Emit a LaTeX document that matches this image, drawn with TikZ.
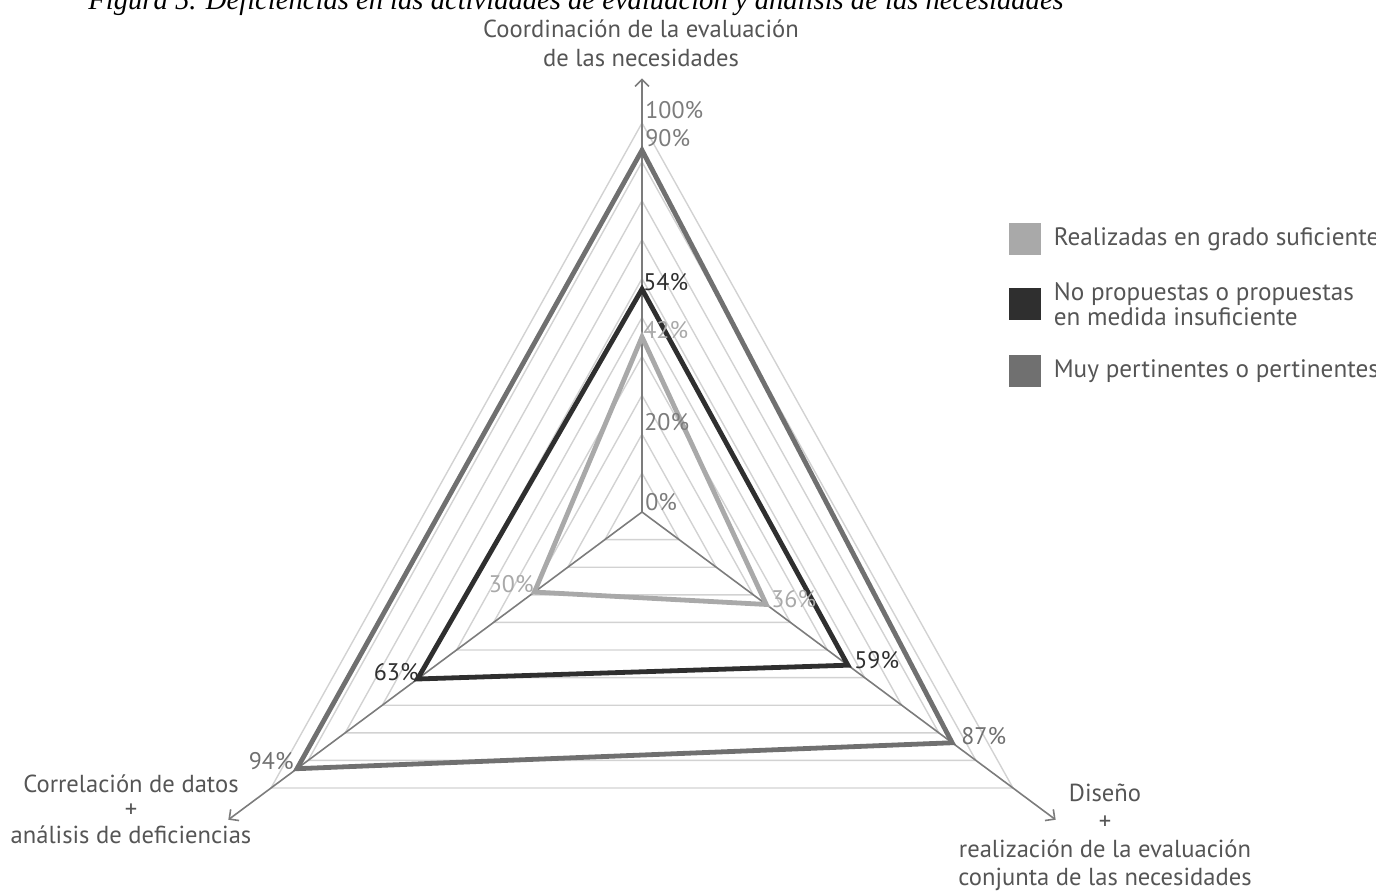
\documentclass[tikz,border=0pt]{standalone}
\usepackage{fontspec}
\setmainfont{Liberation Serif}
\newfontfamily\chartfont{PT Sans}
\usepackage{xcolor}
\usetikzlibrary{positioning,calc,arrows.meta}
\definecolor{lightser}{HTML}{A9A9A9}
\definecolor{darkser}{HTML}{2F2F2F}
\definecolor{midser}{HTML}{707070}
\definecolor{gridcol}{HTML}{D2D2D2}
\definecolor{axiscol}{HTML}{7C7C7C}
\definecolor{labelcol}{HTML}{555555}

\begin{document}
\begin{tikzpicture}[x=0.5pt,y=-0.5pt,
    gridline/.style={draw=gridcol,line width=0.7pt},
    axisline/.style={draw=axiscol,line width=0.8pt,-{Straight Barb[length=3.5pt,width=7pt]}},
    serie/.style={line width=2.4pt,line join=miter},
    pct/.style={font=\chartfont\fontsize{12}{14}\selectfont,inner sep=0pt},
    axlabel/.style={text=labelcol,align=center},
    legbox/.style={minimum size=16pt,inner sep=0pt},
    legtext/.style={font=\chartfont\fontsize{12.6}{12.5}\selectfont,text=labelcol,align=left,inner sep=0pt}]
    \useasboundingbox (0,0) rectangle (1376,891);
    % titulo, cortado por arriba
    \node[font=\itshape\fontsize{14.3}{16}\selectfont,anchor=base west,inner sep=0pt] (titulo) at (88,9)
        {Figura 5. Deficiencias en las actividades de evaluación y análisis de las necesidades};
    % centro y vertices al 100%
    \coordinate (O) at (642,512);
    \coordinate (T) at (642,123);
    \coordinate (L) at (271,788);
    \coordinate (R) at (1013,788);
    % rejilla cada 10%
    \foreach \k in {1,...,10}
        \draw[gridline] ($(O)!\k/10!(T)$) -- ($(O)!\k/10!(L)$) -- ($(O)!\k/10!(R)$) -- cycle;
    % ejes
    \coordinate (Tend) at ($(O)!1.115!(T)$);
    \coordinate (Lend) at ($(O)!1.115!(L)$);
    \coordinate (Rend) at ($(O)!1.115!(R)$);
    \draw[axisline] (O) -- (Tend);
    \draw[axisline] (O) -- (Lend);
    \draw[axisline] (O) -- (Rend);
    % series
    \foreach \nm/\col/\a/\b/\c in {claro/lightser/0.45/0.29/0.335,
                                    oscuro/darkser/0.573/0.605/0.555,
                                    medio/midser/0.93/0.93/0.836}{
        \coordinate (\nm T) at ($(O)!\a!(T)$);
        \coordinate (\nm L) at ($(O)!\b!(L)$);
        \coordinate (\nm R) at ($(O)!\c!(R)$);
        \draw[serie,draw=\col] (\nm T) -- (\nm L) -- (\nm R) -- cycle;
    }
    % etiquetas del eje vertical
    \node[pct,text=axiscol,anchor=west] (p100) at (645,110) {100\%};
    \node[pct,text=axiscol,anchor=west] (p90) at (645,138) {90\%};
    \node[pct,text=axiscol,anchor=west] (p20) at (644,422) {20\%};
    \node[pct,text=axiscol,anchor=west] (p0) at (645,502) {0\%};
    % etiquetas de valores
    \node[pct,text=darkser,anchor=west] (v54) at (643,282) {54\%};
    \node[pct,text=lightser,anchor=west] (v42) at (643,330) {42\%};
    \node[pct,text=lightser,anchor=east] (v30) at (534,584) {30\%};
    \node[pct,text=lightser,anchor=west] (v36) at (771,599) {36\%};
    \node[pct,text=darkser,anchor=east] (v63) at (419,672) {63\%};
    \node[pct,text=darkser,anchor=west] (v59) at (854,660) {59\%};
    \node[pct,text=midser,anchor=east] (v94) at (294,761) {94\%};
    \node[pct,text=midser,anchor=west] (v87) at (961,736) {87\%};
    % nombres de los ejes
    \node[axlabel,font=\chartfont\fontsize{12.3}{14.5}\selectfont] (ejeT) at (641,43)
        {Coordinación de la evaluación\\de las necesidades};
    \node[axlabel,font=\chartfont\fontsize{12.3}{12.8}\selectfont] (ejeL) at (131,809)
        {Correlación de datos\\+\\análisis de deficiencias};
    \node[axlabel,font=\chartfont\fontsize{12.3}{14}\selectfont] (ejeR) at (1105,837)
        {Diseño\\+\\realización de la evaluación\\conjunta de las necesidades};
    % leyenda
    \node[legbox,fill=lightser] (leg1) at (1025,239) {};
    \node[legtext,right=6pt of leg1] (legt1) {Realizadas en grado suficiente};
    \node[legbox,fill=darkser] (leg2) at (1025,304) {};
    \node[legtext,right=6pt of leg2] (legt2) {No propuestas o propuestas\\en medida insuficiente};
    \node[legbox,fill=midser] (leg3) at (1025,371) {};
    \node[legtext,right=6pt of leg3] (legt3) {Muy pertinentes o pertinentes};
\end{tikzpicture}
\end{document}
